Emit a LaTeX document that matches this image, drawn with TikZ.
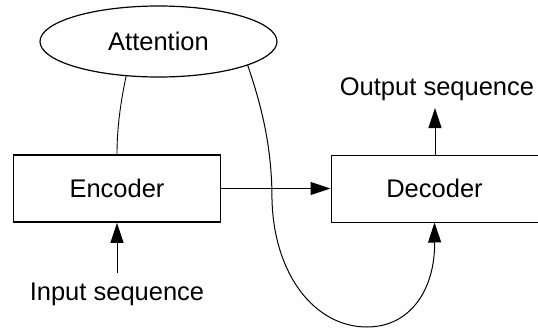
\documentclass[tikz,border=0pt]{standalone}
\usepackage{fontspec}
\setmainfont{Liberation Sans}
\usetikzlibrary{arrows.meta,shapes.geometric}
\begin{document}
\begin{tikzpicture}[x=1pt,y=-1pt,
  lbl/.style={font=\fontsize{25.5}{30}\selectfont, inner sep=0pt},
  boxa/.style={draw, line width=1pt, minimum width=207pt, minimum height=67pt, inner sep=0pt, font=\fontsize{25.5}{30}\selectfont},
  arr/.style={-{Triangle[length=20pt,width=13pt]}, line width=1pt},
  conn/.style={line width=0.9pt}]
\useasboundingbox (0,0) rectangle (538,329);
\node[draw, ellipse, line width=1.2pt, minimum width=237pt, minimum height=71pt, inner sep=0pt, font=\fontsize{25.5}{30}\selectfont] (att) at (158.5,41.5) {Attention};
\node[boxa, line width=1.8pt] (enc) at (117,188.5) {Encoder};
\node[boxa] (dec) at (434.5,188.5) {Decoder};
\node[lbl] (out) at (437,89) {Output sequence};
\node[lbl] (in) at (117,294) {Input sequence};
\coordinate (inS) at (117,273);
\coordinate (outT) at (435,108);
\draw[arr] (enc.east) -- (dec.west);
\draw[arr] (dec.north -| outT) -- (outT);
\draw[arr] (inS) -- (enc.south);
\draw[conn] (att.227) .. controls (120,105) and (117,130) .. (enc.north);
\draw[arr] (att.-15.5) .. controls (263,110) and (272,150) .. (272,200)
  .. controls (274,275) and (315,327) .. (367,327)
  .. controls (410,327) and (435,290) .. (dec.south);
\end{tikzpicture}
\end{document}
